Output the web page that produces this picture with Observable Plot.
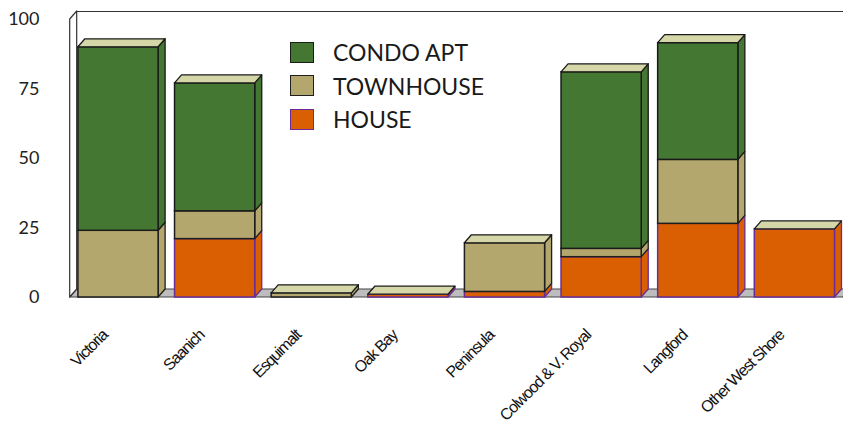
<!DOCTYPE html>
<html>
<head>
<meta charset="utf-8">
<script src="https://cdn.jsdelivr.net/npm/d3@7"></script>
<script src="https://cdn.jsdelivr.net/npm/@observablehq/plot@0.6"></script>
<style>
  body { margin: 0; background: #fff; }
  #wrap { position: relative; width: 843px; height: 436px; }
  #legend { position: absolute; left: 290px; top: 41px; font-family: Lato, "Open Sans", sans-serif; font-size: 23px; color: #1a1a1a; }
  .row { display: flex; align-items: center; height: 22px; margin-bottom: 11.5px; }
  .sw { width: 22px; height: 19px; border: 1.5px solid #1a1a1a; margin-right: 19px; }
</style>
</head>
<body>
<div id="wrap"><div id="legend"></div></div>
<script>
const categories = ["Victoria", "Saanich", "Esquimalt", "Oak Bay", "Peninsula", "Colwood & V. Royal", "Langford", "Other West Shore"];
const house     = [0, 21, 0, 1, 2, 14.5, 26.5, 24.5];
const townhouse = [24, 10, 1.5, 0, 17.5, 3, 23, 0];
const condo     = [66, 46, 0, 0, 0, 63.5, 42, 0];
const yTicks = [0, 25, 50, 75, 100];

const series = [
  {name: "HOUSE", values: house, fill: "#d95f02", stroke: "#6b2d95"},
  {name: "TOWNHOUSE", values: townhouse, fill: "#b4a76e", stroke: "#1e1e1e"},
  {name: "CONDO APT", values: condo, fill: "#447832", stroke: "#1a1a1a"}
];
const legendOrder = ["CONDO APT", "TOWNHOUSE", "HOUSE"];
const topFill = "#d5d7a8";

// 3D geometry (in scale units)
const hw = 0.415;      // half bar width
const ddx = 0.0724;    // depth in x
const ddy = 2.88;      // depth in y

// stacked segments
const segs = [];
categories.forEach((c, i) => {
  let acc = 0;
  series.forEach(s => {
    const v = s.values[i];
    if (v > 0) segs.push({i, series: s.name, y1: acc, y2: acc + v, id: i + "-" + s.name});
    acc += v;
  });
});
const totals = categories.map((c, i) => series.reduce((a, s) => a + s.values[i], 0));

const marks = [];
// floor
const floorPts = [{y: 0, x1: -0.5, x2: 7.5}, {y: ddy, x1: -0.5 + ddx, x2: 7.5 + ddx}];
marks.push(Plot.areaX(floorPts, {y: "y", x1: "x1", x2: "x2", fill: "#bdbdbd", stroke: "#444", strokeWidth: 1.2}));
// left wall
const wallPts = [{x: -0.5, lo: 0, hi: 100}, {x: -0.5 + ddx, lo: ddy, hi: 100 + ddy}];
marks.push(Plot.areaY(wallPts, {x: "x", y1: "lo", y2: "hi", fill: "#fff", stroke: "#333", strokeWidth: 1.2}));
// back top edge
marks.push(Plot.ruleY([100 + ddy], {x1: -0.5 + ddx, x2: 7.5 + ddx, stroke: "#333", strokeWidth: 1.2}));

series.forEach(s => {
  const ss = segs.filter(d => d.series === s.name);
  const side = ss.flatMap(d => [
    {id: d.id, x: d.i + hw, lo: d.y1, hi: d.y2},
    {id: d.id, x: d.i + hw + ddx, lo: d.y1 + ddy, hi: d.y2 + ddy}
  ]);
  marks.push(Plot.areaY(side, {x: "x", y1: "lo", y2: "hi", z: "id", fill: s.fill, stroke: s.stroke, strokeWidth: 1.3}));
});
series.forEach(s => {
  const ss = segs.filter(d => d.series === s.name);
  marks.push(Plot.rect(ss, {x1: d => d.i - hw, x2: d => d.i + hw, y1: "y1", y2: "y2", fill: s.fill, stroke: s.stroke, strokeWidth: 1.5}));
});
// top faces
const tops = categories.flatMap((c, i) => totals[i] > 0 ? [
  {i, y: totals[i], x1: i - hw, x2: i + hw},
  {i, y: totals[i] + ddy, x1: i - hw + ddx, x2: i + hw + ddx}
] : []);
marks.push(Plot.areaX(tops, {y: "y", x1: "x1", x2: "x2", z: "i", fill: topFill, stroke: "#1a1a1a", strokeWidth: 1.3}));

// y axis
marks.push(Plot.axisY(yTicks, {tickSize: 0, tickPadding: 3, fontSize: 18, label: null, fill: "#222"}));
// x labels
marks.push(Plot.text(categories, {
  x: (d, i) => i - 0.14, y: () => 0, text: d => d, dy: 35,
  rotate: -45, textAnchor: "end", lineAnchor: "middle",
  fontSize: 16, fill: "#111"
}));

const chart = Plot.plot({
  width: 843, height: 436,
  marginLeft: 42, marginRight: 0, marginTop: 0, marginBottom: 0,
  x: {domain: [-0.5, 7.5], range: [69.7, 842.7], axis: null},
  y: {domain: [0, 100], range: [297, 19], axis: null},
  style: {fontFamily: "Lato, 'Open Sans', sans-serif", background: "#fff", overflow: "visible"},
  marks
});
chart.querySelectorAll("text").forEach(t => {
  const s = t.textContent;
  if (isNaN(+s)) { t.style.letterSpacing = "-1.1px"; t.style.fontFamily = "'Liberation Sans', Arial, sans-serif"; }
});
document.getElementById("wrap").prepend(chart);

const legend = document.getElementById("legend");
legendOrder.forEach(n => {
  const s = series.find(d => d.name === n);
  const row = document.createElement("div");
  row.className = "row";
  const sw = document.createElement("div");
  sw.className = "sw";
  sw.style.background = s.fill;
  sw.style.borderColor = s.stroke;
  const lab = document.createElement("span");
  lab.textContent = n;
  row.append(sw, lab);
  legend.append(row);
});
</script>
</body>
</html>
